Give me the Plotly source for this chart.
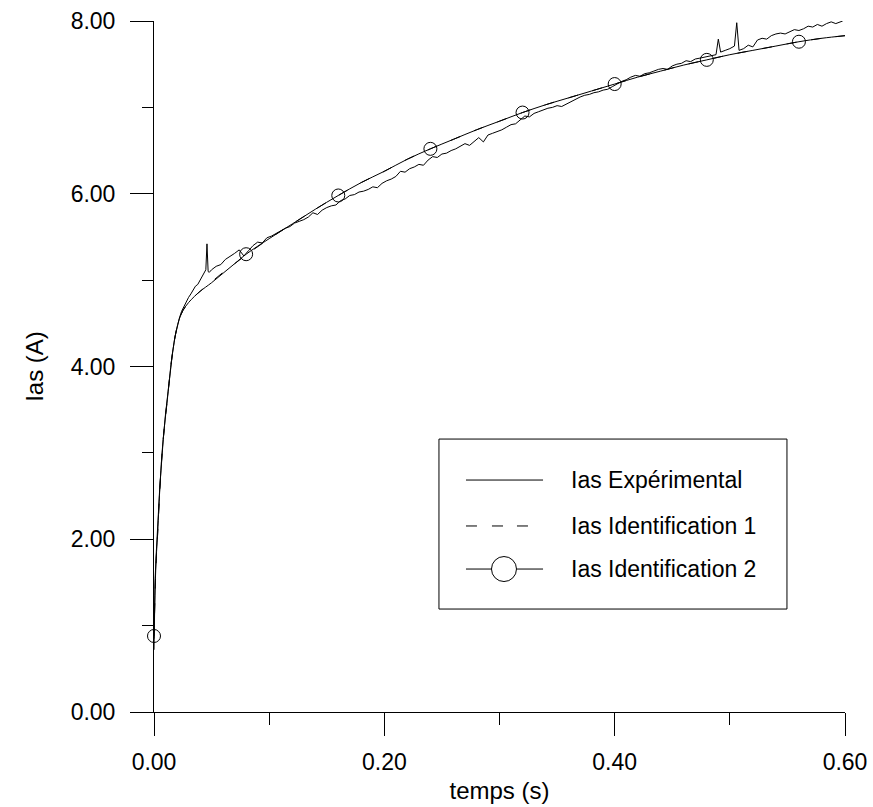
import plotly.graph_objects as go

# ---------------- data ----------------
exp_t = [0, 0.0005, 0.001, 0.002, 0.003, 0.004, 0.005, 0.006, 0.008, 0.010,
         0.012, 0.014, 0.016, 0.018, 0.020, 0.022, 0.024, 0.026, 0.028, 0.030,
         0.032, 0.034, 0.036, 0.038, 0.040, 0.042, 0.044, 0.045, 0.046, 0.047,
         0.048, 0.050, 0.054, 0.058, 0.062, 0.066, 0.070, 0.074, 0.078, 0.082,
         0.086, 0.090, 0.094, 0.098, 0.102, 0.106, 0.110, 0.114, 0.118, 0.122,
         0.126, 0.130, 0.134, 0.138, 0.142, 0.146, 0.150, 0.154, 0.158, 0.162,
         0.166, 0.170, 0.174, 0.178, 0.182, 0.186, 0.190, 0.194, 0.198, 0.202,
         0.206, 0.210, 0.214, 0.218, 0.222, 0.226, 0.230, 0.234, 0.238, 0.242,
         0.246, 0.250, 0.254, 0.258, 0.262, 0.266, 0.270, 0.274, 0.278, 0.282,
         0.286, 0.290, 0.294, 0.298, 0.302, 0.306, 0.310, 0.314, 0.318, 0.322,
         0.326, 0.330, 0.334, 0.338, 0.342, 0.346, 0.350, 0.354, 0.358, 0.362,
         0.366, 0.370, 0.374, 0.378, 0.382, 0.386, 0.390, 0.394, 0.398, 0.402,
         0.406, 0.410, 0.414, 0.418, 0.422, 0.426, 0.430, 0.434, 0.438, 0.442,
         0.446, 0.450, 0.454, 0.458, 0.462, 0.466, 0.470, 0.474, 0.478, 0.482,
         0.486, 0.488, 0.490, 0.492, 0.496, 0.500, 0.504, 0.506, 0.508, 0.512,
         0.516, 0.520, 0.524, 0.528, 0.532, 0.536, 0.540, 0.544, 0.548, 0.552,
         0.556, 0.560, 0.564, 0.568, 0.572, 0.576, 0.580, 0.584, 0.588, 0.592,
         0.596, 0.598]
exp_v = [0.72, 1.20, 1.55, 1.85, 2.05, 2.35, 2.60, 2.80, 3.15, 3.45,
         3.68, 3.95, 4.15, 4.33, 4.45, 4.56, 4.64, 4.70, 4.76, 4.80,
         4.84, 4.89, 4.93, 4.95, 5.00, 5.04, 5.09, 5.12, 5.42, 5.10,
         5.09, 5.12, 5.16, 5.18, 5.24, 5.27, 5.31, 5.35, 5.28, 5.34,
         5.40, 5.44, 5.43, 5.49, 5.51, 5.54, 5.57, 5.60, 5.62, 5.66,
         5.68, 5.70, 5.73, 5.78, 5.76, 5.81, 5.84, 5.86, 5.87, 5.92,
         5.94, 5.98, 5.99, 6.02, 6.03, 6.05, 6.08, 6.07, 6.12, 6.15,
         6.17, 6.20, 6.26, 6.25, 6.29, 6.31, 6.34, 6.33, 6.39, 6.43,
         6.42, 6.46, 6.47, 6.50, 6.52, 6.55, 6.58, 6.56, 6.61, 6.65,
         6.60, 6.68, 6.70, 6.72, 6.74, 6.77, 6.80, 6.81, 6.85, 6.90,
         6.89, 6.93, 6.95, 6.97, 6.99, 7.00, 7.02, 7.01, 7.04, 7.07,
         7.09, 7.12, 7.14, 7.15, 7.17, 7.18, 7.20, 7.21, 7.24, 7.27,
         7.30, 7.32, 7.35, 7.37, 7.36, 7.39, 7.40, 7.42, 7.44, 7.45,
         7.44, 7.48, 7.50, 7.51, 7.54, 7.53, 7.56, 7.57, 7.58, 7.59,
         7.60, 7.61, 7.79, 7.64, 7.66, 7.68, 7.71, 7.98, 7.66, 7.68,
         7.72, 7.70, 7.78, 7.80, 7.79, 7.83, 7.85, 7.86, 7.85, 7.88,
         7.90, 7.89, 7.91, 7.94, 7.93, 7.96, 7.94, 7.97, 7.99, 7.97,
         7.99, 8.00]

id1_t = [0, 0.001, 0.002, 0.003, 0.005, 0.007, 0.009, 0.0116, 0.013, 0.015,
         0.0175, 0.0194, 0.022, 0.0252, 0.030, 0.035, 0.040, 0.050, 0.060, 0.070,
         0.080, 0.100, 0.120, 0.140, 0.160, 0.180, 0.200, 0.220, 0.240, 0.260,
         0.280, 0.300, 0.320, 0.340, 0.360, 0.380, 0.400, 0.420, 0.440, 0.460,
         0.480, 0.500, 0.520, 0.540, 0.560, 0.580, 0.600]
id1_v = [0.85, 1.40, 1.78, 2.02, 2.56, 2.99, 3.30, 3.62, 3.80, 4.05,
         4.28, 4.42, 4.55, 4.65, 4.74, 4.81, 4.87, 4.98, 5.09, 5.19,
         5.29, 5.48, 5.65, 5.82, 5.98, 6.13, 6.26, 6.40, 6.52, 6.63,
         6.74, 6.84, 6.94, 7.03, 7.11, 7.19, 7.27, 7.35, 7.42, 7.49,
         7.55, 7.61, 7.66, 7.71, 7.76, 7.80, 7.83]

id2_t = [0, 0.001, 0.002, 0.003, 0.005, 0.007, 0.009, 0.0116, 0.013, 0.015,
         0.0175, 0.0194, 0.022, 0.0252, 0.030, 0.035, 0.040, 0.050, 0.060, 0.070,
         0.080, 0.100, 0.120, 0.140, 0.160, 0.180, 0.200, 0.220, 0.240, 0.260,
         0.280, 0.300, 0.320, 0.340, 0.360, 0.380, 0.400, 0.420, 0.440, 0.460,
         0.480, 0.500, 0.520, 0.540, 0.560, 0.580, 0.600]
id2_v = [0.88, 1.45, 1.80, 2.03, 2.57, 3.00, 3.30, 3.62, 3.80, 4.05,
         4.28, 4.42, 4.55, 4.65, 4.74, 4.81, 4.87, 4.97, 5.08, 5.19,
         5.30, 5.48, 5.65, 5.82, 5.98, 6.13, 6.26, 6.40, 6.52, 6.63,
         6.74, 6.84, 6.94, 7.03, 7.11, 7.19, 7.27, 7.35, 7.42, 7.49,
         7.55, 7.61, 7.66, 7.71, 7.76, 7.80, 7.83]

id2_marker_t = [0.00, 0.08, 0.16, 0.24, 0.32, 0.40, 0.48, 0.56]
id2_marker_v = [0.88, 5.30, 5.98, 6.52, 6.94, 7.27, 7.55, 7.76]

x_tick_vals = [0.0, 0.2, 0.4, 0.6]
x_tick_text = ["0.00", "0.20", "0.40", "0.60"]
y_tick_vals = [0, 2, 4, 6, 8]
y_tick_text = ["0.00", "2.00", "4.00", "6.00", "8.00"]

series_names = ["Ias Expérimental", "Ias Identification 1", "Ias Identification 2"]
x_title = "temps (s)"
y_title = "Ias (A)"

# ---------------- figure ----------------
FONT = "Liberation Sans, Arial, Helvetica, sans-serif"
BLACK = "#000000"
DASH = "10px,15px"

fig = go.Figure()
fig.add_trace(go.Scatter(x=exp_t, y=exp_v, mode="lines", name=series_names[0],
                         line=dict(color=BLACK, width=1), showlegend=False))
fig.add_trace(go.Scatter(x=id1_t, y=id1_v, mode="lines", name=series_names[1],
                         line=dict(color=BLACK, width=1, dash=DASH, shape="spline"),
                         showlegend=False))
fig.add_trace(go.Scatter(x=id2_t, y=id2_v, mode="lines", name=series_names[2],
                         line=dict(color=BLACK, width=1, shape="spline"), showlegend=False))
fig.add_trace(go.Scatter(x=id2_marker_t, y=id2_marker_v, mode="markers", name=series_names[2],
                         marker=dict(symbol="circle-open", size=13, color=BLACK,
                                     line=dict(color=BLACK, width=1)),
                         showlegend=False, cliponaxis=False))

# ---- hand-built legend box (paper coordinates; plot area is 691 x 691 px) ----
box = dict(x0=0.4124, x1=0.916, y0=0.149, y1=0.395)
fig.add_shape(type="rect", xref="paper", yref="paper", **box,
              line=dict(color=BLACK, width=1), fillcolor="white", layer="above")
rows_y = [0.3357, 0.2692, 0.2069]
lx0, lx1 = 0.4515, 0.563
fig.add_shape(type="line", xref="paper", yref="paper", x0=lx0, x1=lx1,
              y0=rows_y[0], y1=rows_y[0], line=dict(color=BLACK, width=1), layer="above")
# dashed sample: three short dashes
for d0, d1 in [(0.4515, 0.4674), (0.4891, 0.5051), (0.5253, 0.5412)]:
    fig.add_shape(type="line", xref="paper", yref="paper", x0=d0, x1=d1,
                  y0=rows_y[1], y1=rows_y[1], line=dict(color=BLACK, width=1),
                  layer="above")
fig.add_shape(type="line", xref="paper", yref="paper", x0=lx0, x1=lx1,
              y0=rows_y[2], y1=rows_y[2], line=dict(color=BLACK, width=1), layer="above")
cx, r = 0.5065, 0.0181
fig.add_shape(type="circle", xref="paper", yref="paper", x0=cx - r, x1=cx + r,
              y0=rows_y[2] - r, y1=rows_y[2] + r, line=dict(color=BLACK, width=1),
              fillcolor="white", layer="above")
for name, yy in zip(series_names, rows_y):
    fig.add_annotation(xref="paper", yref="paper", x=0.6006, y=yy, text=name,
                       showarrow=False, xanchor="left", yanchor="middle",
                       font=dict(family=FONT, size=23, color=BLACK))

axis_common = dict(showline=True, linecolor=BLACK, linewidth=1, showgrid=False,
                   zeroline=False, ticks="outside", ticklen=23, tickwidth=1,
                   tickcolor=BLACK, tickfont=dict(family=FONT, size=23, color=BLACK),
                   mirror=False, automargin=False, ticklabeloverflow="allow")
fig.update_xaxes(range=[0, 0.6], tickmode="array", tickvals=x_tick_vals, ticktext=x_tick_text,
                 minor=dict(dtick=0.1, tick0=0, ticks="outside", ticklen=12,
                            tickcolor=BLACK, tickwidth=1, showgrid=False),
                 title=dict(text=x_title, font=dict(family=FONT, size=24, color=BLACK),
                            standoff=8),
                 ticklabelstandoff=6, **axis_common)
fig.update_yaxes(range=[0, 8], tickmode="array", tickvals=y_tick_vals, ticktext=y_tick_text,
                 minor=dict(dtick=1, tick0=0, ticks="outside", ticklen=11,
                            tickcolor=BLACK, tickwidth=1, showgrid=False),
                 title=dict(text=y_title, font=dict(family=FONT, size=24, color=BLACK),
                            standoff=20),
                 ticklabelstandoff=10, **axis_common)

fig.update_layout(width=873, height=807, autosize=False,
                  margin=dict(l=154, r=28, t=21, b=95, pad=0),
                  paper_bgcolor="white", plot_bgcolor="white",
                  font=dict(family=FONT, color=BLACK))

fig.write_html("out.html", config={"displayModeBar": False},
               post_script="document.body.style.margin='0';document.body.style.overflow='hidden';")
